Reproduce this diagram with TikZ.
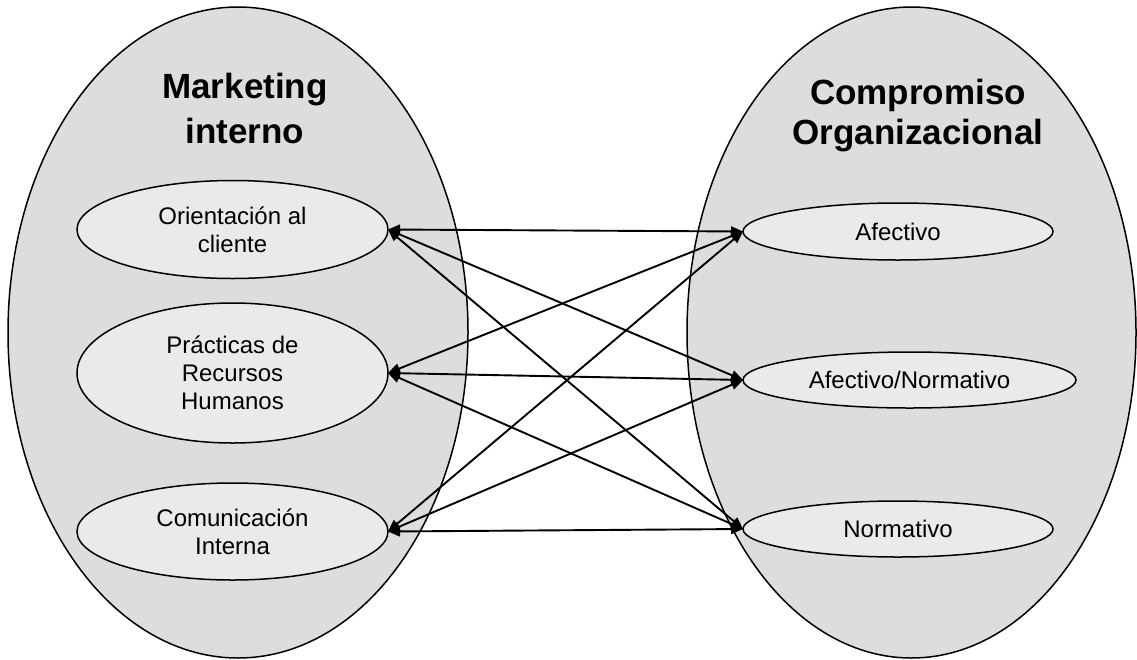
\documentclass[tikz,border=0pt]{standalone}
\usepackage{fontspec}
\setmainfont{Liberation Sans}
\usetikzlibrary{shapes.geometric,arrows.meta}
\definecolor{bigfill}{RGB}{221,221,221}
\definecolor{smallfill}{RGB}{234,234,234}
\tikzset{
  bigell/.style={ellipse, draw=black, line width=1.5pt, fill=bigfill, inner sep=0pt, outer sep=0pt},
  smallell/.style={ellipse, draw=black, line width=1.5pt, fill=smallfill, inner sep=0pt, outer sep=0pt,
    align=center, font=\fontsize{24}{28}\selectfont},
  titletext/.style={align=center, inner sep=0pt},
  link/.style={line width=1.9pt, {Triangle[length=12pt,width=10pt]}-{Triangle[length=12pt,width=10pt]}}
}
\begin{document}
\begin{tikzpicture}[x=1pt,y=-1pt]
\useasboundingbox (0,0) rectangle (1137,659);
% big ellipses
\node[bigell, minimum width=460pt, minimum height=651pt] (lbig) at (238,332.5) {};
\node[bigell, minimum width=449pt, minimum height=651pt] (rbig) at (911.5,332.5) {};
% titles
\node[titletext, font=\fontsize{35}{45}\selectfont\bfseries] (ltitle) at (245,108) {Marketing\\interno};
\node[titletext, font=\fontsize{35}{40}\selectfont\bfseries] (rtitle) at (918,116) {Compromiso\\Organizacional};
% small ellipses
\node[smallell, minimum width=311pt, minimum height=98pt] (ori) at (232.5,229.5) {Orientación al\\cliente};
\node[smallell, minimum width=311pt, minimum height=140pt] (pra) at (232.5,373) {Prácticas de\\Recursos\\Humanos};
\node[smallell, minimum width=311pt, minimum height=97pt] (com) at (232.5,531.5) {Comunicación\\Interna};
\node[smallell, minimum width=310pt, minimum height=57pt] (afe) at (898,231.5) {Afectivo};
\node[smallell, minimum width=333pt, minimum height=56pt] (afn) at (909.5,380) {Afectivo/Normativo};
\node[smallell, minimum width=310pt, minimum height=56pt] (nor) at (898,529) {Normativo};
% connectors
\foreach \s in {ori,pra,com}{
  \foreach \t in {afe,afn,nor}{
    \draw[link] (\s.east) -- (\t.west);
  }
}
\end{tikzpicture}
\end{document}
